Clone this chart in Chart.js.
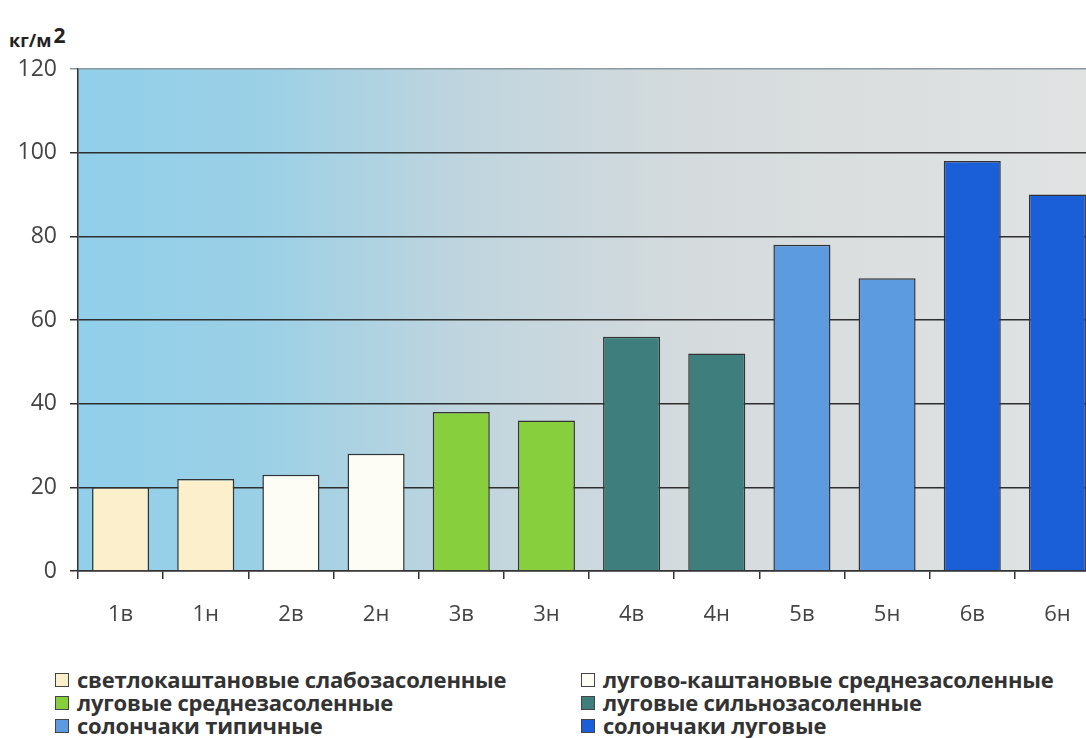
<!DOCTYPE html>
<html>
<head>
<meta charset="utf-8">
<script src="https://cdn.jsdelivr.net/npm/chart.js@4"></script>
<style>
    html, body { margin: 0; padding: 0; background: #fff; overflow: hidden; }
    body { width: 1086px; height: 738px; position: relative; font-family: "Open Sans", "DejaVu Sans", sans-serif; }
    #wrap { position: absolute; left: 0; top: 0; width: 1100px; height: 650px; }
    #unit { position: absolute; left: 9px; top: 18px; font-size: 18px; font-weight: bold; color: #222; }
    #unit sup { font-size: 21px; position: relative; top: 3px; margin-left: 2px; }
    #legend { position: absolute; left: 55px; top: 668px; width: 1030px; }
    .item { position: absolute; font-size: 22px; font-weight: bold; color: #333; white-space: nowrap; line-height: 23px; letter-spacing: -0.2px; }
    .box { display: inline-block; width: 12px; height: 12px; border: 1px solid #444; margin-right: 8px; vertical-align: 1px; }
</style>
</head>
<body>
<div id="unit">кг/м<sup>2</sup></div>
<div id="wrap"><canvas id="myChart"></canvas></div>
<div id="legend"></div>
<script>
// данные
const categories = ['1в', '1н', '2в', '2н', '3в', '3н', '4в', '4н', '5в', '5н', '6в', '6н']
const values = [20, 22, 23, 28, 38, 36, 56, 52, 78, 70, 98, 90]
const groupOfBar = [0, 0, 1, 1, 2, 2, 3, 3, 4, 4, 5, 5]
const groupNames = [
    'светлокаштановые слабозасоленные',
    'лугово-каштановые среднезасоленные',
    'луговые среднезасоленные',
    'луговые сильнозасоленные',
    'солончаки типичные',
    'солончаки луговые'
]
const yTicks = [0, 20, 40, 60, 80, 100, 120]

// цвета групп
const groupColors = ['#fbf0cb', '#fefdf5', '#88cf3e', '#3e7f7d', '#5c9be0', '#1b5fd8']

// фон области графика
const bgPlugin = {
    id: 'bg',
    beforeDraw(chart) {
        const { ctx, chartArea: a } = chart
        const g = ctx.createLinearGradient(a.left, 0, a.right, 0)
        g.addColorStop(0, 'rgb(145,207,234)')
        g.addColorStop(0.18, 'rgb(155,208,230)')
        g.addColorStop(0.38, 'rgb(192,213,222)')
        g.addColorStop(0.6, 'rgb(213,219,221)')
        g.addColorStop(1, 'rgb(225,227,227)')
        ctx.save()
        ctx.fillStyle = g
        ctx.fillRect(a.left, a.top, a.right - a.left, a.bottom - a.top)
        ctx.restore()
    }
}

const ctx = document.getElementById('myChart')
new Chart(ctx, {
    type: 'bar',
    data: {
        labels: categories,
        datasets: [{
            data: values,
            backgroundColor: groupOfBar.map(g => groupColors[g]),
            borderColor: '#333',
            borderWidth: 1.5,
            borderSkipped: 'bottom',
            categoryPercentage: 1,
            barPercentage: 0.67
        }]
    },
    options: {
        responsive: true,
        maintainAspectRatio: false,
        animation: false,
        layout: { padding: { top: 69, left: 0, right: 0, bottom: 0 } },
        plugins: {
            legend: { display: false },
            tooltip: { enabled: false }
        },
        scales: {
            x: {
                offset: true,
                grid: { offset: true, drawOnChartArea: false, drawTicks: true, tickLength: 8, color: '#333', lineWidth: 1.5 },
                border: { color: '#333', width: 1.5 },
                ticks: { color: '#444', font: { family: 'Open Sans', size: 22 }, padding: 23 },
                afterFit(scale) { scale.height = 79 }
            },
            y: {
                min: 0,
                max: 120,
                afterBuildTicks(scale) { scale.ticks = yTicks.map(v => ({ value: v })) },
                grid: {
                    color: c => c.tick.value === 120 ? '#8a9aa0' : '#2e2e2e',
                    lineWidth: 1.5,
                    tickLength: 8
                },
                border: { color: '#333', width: 1.5 },
                ticks: { color: '#444', font: { family: 'Open Sans', size: 23 }, padding: 13 },
                afterFit(scale) { scale.width = 78 }
            }
        }
    },
    plugins: [bgPlugin]
})

// легенда в две колонки
const legend = document.getElementById('legend')
groupNames.forEach((name, i) => {
    const el = document.createElement('div')
    el.className = 'item'
    el.style.left = (i % 2 === 0 ? 0 : 526) + 'px'
    el.style.top = (Math.floor(i / 2) * 23) + 'px'
    el.innerHTML = '<span class="box" style="background:' + groupColors[i] + '"></span>' + name
    legend.appendChild(el)
})
</script>
</body>
</html>
